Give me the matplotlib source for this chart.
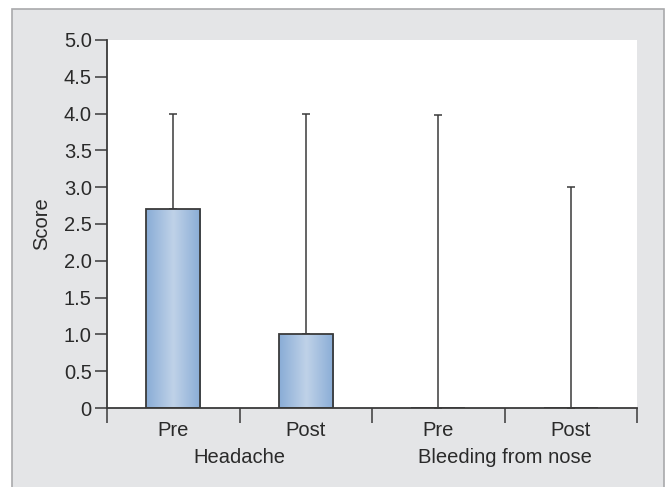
import numpy as np
import matplotlib.pyplot as plt
from matplotlib.patches import Rectangle
from matplotlib.colors import LinearSegmentedColormap
from matplotlib import transforms

plt.rcParams['font.family'] = ['Liberation Sans', 'DejaVu Sans']

# DATA.
conditions = ["Headache", "Bleeding from nose"]
phases = ["Pre", "Post", "Pre", "Post"]
mean_score = [2.7, 1.0, 0.0, 0.0]
upper_score = [4.0, 4.0, 3.98, 3.0]
y_ticks = [0, 0.5, 1.0, 1.5, 2.0, 2.5, 3.0, 3.5, 4.0, 4.5, 5.0]
y_tick_labels = ["0", "0.5", "1.0", "1.5", "2.0", "2.5", "3.0", "3.5", "4.0", "4.5", "5.0"]

BG = "#e4e5e7"
INK = "#3a3a3a"
TXT = "#2a2a2a"
FS = 14.5

fig = plt.figure(figsize=(6.68, 4.87), dpi=100)
fig.patch.set_facecolor("white")

# gray panel with border (left/top/right), runs off the bottom
fig.add_artist(Rectangle((12 / 668, -0.02), (664 - 12) / 668, 1.02 - 9 / 487,
                         transform=fig.transFigure, facecolor=BG,
                         edgecolor="#a9a9ab", lw=1.2, zorder=-10))

ax = fig.add_axes([107 / 668, 1 - 408 / 487, (637 - 107) / 668, (408 - 40) / 487])
ax.set_facecolor("white")

x = np.arange(1, len(phases) + 1)
yerr = [np.zeros(len(x)), np.array(upper_score) - np.array(mean_score)]

bars = ax.bar(x, mean_score, width=0.41, facecolor="none", edgecolor=INK, lw=1.3, zorder=3)
ax.errorbar(x, mean_score, yerr=yerr, fmt="none", ecolor=INK, elinewidth=1.1,
            capsize=3, capthick=1.1, zorder=2)

# horizontal gradient fill for bars
cmap = LinearSegmentedColormap.from_list("bar", ["#89acd6", "#bfd2e8", "#89acd6"])
grad = np.linspace(0, 1, 256).reshape(1, -1)
for b in bars:
    if b.get_height() <= 0:
        continue
    ax.imshow(grad, cmap=cmap, aspect="auto", zorder=2.5,
              extent=(b.get_x(), b.get_x() + b.get_width(), 0, b.get_height()))

ax.set_xlim(0.5, 4.5)
ax.set_ylim(0, 5.0)

ax.set_yticks(y_ticks)
ax.set_yticklabels(y_tick_labels)
ax.set_xticks(x)
ax.set_xticklabels(phases)
ax.set_xticks(np.arange(0.5, 5.0, 1.0), minor=True)

ax.tick_params(axis="y", direction="out", length=9, width=1.1, color=INK,
               labelsize=FS, labelcolor=TXT, pad=2)
ax.tick_params(axis="x", which="major", length=0, labelsize=FS, labelcolor=TXT, pad=9)
ax.tick_params(axis="x", which="minor", direction="out", length=11, width=1.1, color=INK)

for s in ["top", "right"]:
    ax.spines[s].set_visible(False)
for s in ["left", "bottom"]:
    ax.spines[s].set_color(INK)
    ax.spines[s].set_linewidth(1.3)

ax.set_ylabel("Score", fontsize=FS, color=TXT, labelpad=9)

trans = transforms.blended_transform_factory(ax.transData, ax.transAxes)
for i, name in enumerate(conditions):
    ax.text(1.5 + 2 * i, -0.108, name, transform=trans, ha="center", va="top",
            fontsize=FS, color=TXT)

fig.savefig("out.png", dpi=100, facecolor=fig.get_facecolor())
